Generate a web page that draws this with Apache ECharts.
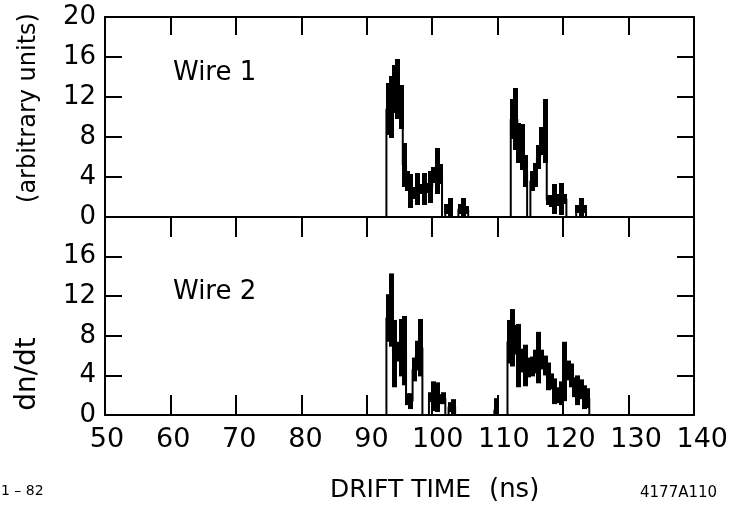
<!DOCTYPE html>
<html>
<head>
<meta charset="utf-8">
<script src="https://cdn.jsdelivr.net/npm/echarts@6/dist/echarts.min.js"></script>
<style>
html,body{margin:0;padding:0;background:#fff;}
#c{width:731px;height:506px;}
</style>
</head>
<body>
<div id="c"></div>
<script>
// ---- data ----
const X_TICKS = [50, 60, 70, 80, 90, 100, 110, 120, 130, 140];
const Y_TICKS = [0, 4, 8, 12, 16, 20];
const BIN_WIDTH = 0.5; // ns

const wire1Edges = [93.0,93.5,94.0,94.5,95.0,95.5,96.0,96.5,97.0,97.5,98.0,98.5,99.0,99.5,100.0,100.5,101.0,
  102.0,102.5, 104.0,104.5,105.0,
  112.0,112.5,113.0,113.5,114.0,
  115.0,115.5,116.0,116.5,117.0,117.5,118.0,118.5,119.0,119.5,120.0,
  122.0,122.5,123.0];
const wire1Counts = [10.8,11.0,12.8,12.8,11.0,5.2,3.6,2.6,2.4,2.8,2.8,2.8,2.9,3.0,4.2,4.6,4.3,
  0.8,0.9, 0.8,0.9,0.7,
  9.8,9.8,7.4,7.0,4.6,
  3.6,4.2,6.0,7.6,8.6,1.7,1.6,1.8,1.7,1.8,1.8,
  0.8,0.9,0.8];
const wire1Errors = [2.6,3.1,2.4,3.0,2.2,2.2,1.0,1.7,0.6,1.6,0.5,1.6,0.5,1.6,0.8,2.3,1.0,
  0.5,1.0, 0.5,1.0,0.4,
  2.0,3.1,2.0,2.3,1.6,
  1.0,1.2,1.2,1.4,3.2,0.5,0.6,1.5,0.6,1.6,0.5,
  0.4,1.0,0.4];

const wire2Edges = [93.0,93.5,94.0,94.5,95.0,95.5,96.0,96.5,97.0,97.5,98.0,
  99.5,100.0,100.5,101.0,101.5,
  102.5,103.0,
  109.5,
  111.5,112.0,112.5,113.0,113.5,114.0,114.5,115.0,115.5,116.0,116.5,117.0,117.5,118.0,118.5,119.0,119.5,120.0,120.5,121.0,121.5,122.0,122.5,123.0,123.5];
const wire2Counts = [9.8,10.6,6.2,6.4,6.8,6.5,1.6,1.4,4.6,6.0,6.8,
  1.8,1.9,1.8,1.6,1.7,
  0.8,0.8,
  0.5,
  7.4,7.8,7.6,6.0,5.5,5.0,4.8,4.9,5.4,5.8,5.6,5.0,3.9,3.4,2.4,2.0,2.2,4.4,4.5,4.0,2.8,2.5,2.6,1.8,1.7];
const wire2Errors = [2.4,3.7,3.4,1.0,2.9,3.5,0.6,0.8,1.2,1.5,2.9,
  0.5,1.5,1.5,0.5,0.6,
  0.5,0.8,
  1.2,
  2.2,2.9,1.5,3.2,1.2,2.1,1.0,1.0,1.2,2.6,1.0,1.0,1.4,0.8,1.3,0.8,1.2,3.0,1.0,1.2,1.0,1.5,1.0,1.2,1.0];

// ---- helpers ----
const FONT = 'DejaVu Sans';
const BLACK = '#000';

function outline(edges, counts) {
  const pts = [];
  for (let i = 0; i < edges.length; i++) {
    const e = edges[i], v = counts[i], end = e + BIN_WIDTH;
    const gapBefore = i === 0 || Math.abs(edges[i - 1] + BIN_WIDTH - e) > 1e-6;
    if (gapBefore) pts.push([e, 0]);
    pts.push([e, v]);
    pts.push([end, v]);
    const gapAfter = i === edges.length - 1 || Math.abs(edges[i + 1] - end) > 1e-6;
    if (gapAfter) pts.push([end, 0]);
  }
  return pts;
}
function errBars(edges, counts, errs) {
  return edges.map((e, i) => [e + BIN_WIDTH / 2, Math.max(0, counts[i] - errs[i]), counts[i] + errs[i]]);
}
const ERR_W = 5;
function renderErr(params, api) {
  const p1 = api.coord([api.value(0), api.value(1)]);
  const p2 = api.coord([api.value(0), api.value(2)]);
  return { type: 'rect', shape: { x: Math.round(p1[0] - ERR_W / 2), y: p2[1], width: ERR_W, height: p1[1] - p2[1] },
           style: { fill: BLACK } };
}

const lineStyle = { color: BLACK, width: 2 };
function xAx(grid, pos, tickLen, showLine) {
  return { gridIndex: grid, type: 'value', position: pos, min: X_TICKS[0], max: X_TICKS[X_TICKS.length - 1],
    interval: X_TICKS[1] - X_TICKS[0],
    axisLine: { show: showLine, onZero: false, lineStyle },
    axisTick: { show: tickLen > 0, inside: true, length: tickLen, lineStyle },
    axisLabel: { show: false }, splitLine: { show: false } };
}
function yAx(grid, pos, showLabel, hideTop) {
  return { gridIndex: grid, type: 'value', position: pos, min: Y_TICKS[0], max: Y_TICKS[Y_TICKS.length - 1],
    interval: Y_TICKS[1] - Y_TICKS[0],
    axisLine: { show: true, onZero: false, lineStyle },
    axisTick: { show: true, inside: true, length: 17, lineStyle },
    axisLabel: { show: showLabel, margin: 9, color: BLACK, fontFamily: FONT, fontSize: 26,
      formatter: v => (hideTop && v === 20) ? '' : String(v) },
    splitLine: { show: false } };
}

const chart = echarts.init(document.getElementById('c'), null, { renderer: 'canvas' });
chart.setOption({
  animation: false,
  backgroundColor: '#fff',
  grid: [
    { left: 105, top: 17, width: 589, height: 200 },
    { left: 105, top: 217, width: 589, height: 198 },
    { left: 107, top: 415, width: 597, height: 1 }
  ],
  xAxis: [
    xAx(0, 'top', 18, true),
    xAx(0, 'bottom', 0, true),
    xAx(1, 'top', 20, true),
    xAx(1, 'bottom', 20, true),
    { gridIndex: 2, type: 'value', position: 'bottom', min: X_TICKS[0], max: X_TICKS[X_TICKS.length - 1],
      interval: X_TICKS[1] - X_TICKS[0],
      axisLine: { show: false }, axisTick: { show: false }, splitLine: { show: false },
      axisLabel: { show: true, margin: 10, color: BLACK, fontFamily: FONT, fontSize: 27 } }
  ],
  yAxis: [
    yAx(0, 'left', true, false),
    yAx(0, 'right', false, false),
    yAx(1, 'left', true, true),
    yAx(1, 'right', false, false),
    { gridIndex: 2, type: 'value', show: false }
  ],
  series: [
    { type: 'line', xAxisIndex: 1, yAxisIndex: 0, data: outline(wire1Edges, wire1Counts),
      showSymbol: false, symbol: 'none', lineStyle: { color: BLACK, width: 2 }, z: 3 },
    { type: 'custom', xAxisIndex: 1, yAxisIndex: 0, data: errBars(wire1Edges, wire1Counts, wire1Errors),
      encode: { x: 0, y: [1, 2] }, renderItem: renderErr, z: 4 },
    { type: 'line', xAxisIndex: 3, yAxisIndex: 2, data: outline(wire2Edges, wire2Counts),
      showSymbol: false, symbol: 'none', lineStyle: { color: BLACK, width: 2 }, z: 3 },
    { type: 'custom', xAxisIndex: 3, yAxisIndex: 2, data: errBars(wire2Edges, wire2Counts, wire2Errors),
      encode: { x: 0, y: [1, 2] }, renderItem: renderErr, z: 4 }
  ],
  graphic: [
    { type: 'text', x: 29, y: 108, rotation: Math.PI / 2,
      style: { text: '(arbitrary units)', fill: BLACK, font: '24px "DejaVu Sans"', textAlign: 'center', textVerticalAlign: 'middle', align: 'center', verticalAlign: 'middle' } },
    { type: 'text', x: 28, y: 374, rotation: Math.PI / 2,
      style: { text: 'dn/dt', fill: BLACK, font: '28px "DejaVu Sans"', textAlign: 'center', textVerticalAlign: 'middle', align: 'center', verticalAlign: 'middle' } },
    { type: 'text', x: 173, y: 73,
      style: { text: 'Wire 1', fill: BLACK, font: '26px "DejaVu Sans"', textAlign: 'left', textVerticalAlign: 'middle', align: 'left', verticalAlign: 'middle' } },
    { type: 'text', x: 173, y: 292,
      style: { text: 'Wire 2', fill: BLACK, font: '26px "DejaVu Sans"', textAlign: 'left', textVerticalAlign: 'middle', align: 'left', verticalAlign: 'middle' } },
    { type: 'text', x: 330, y: 490,
      style: { text: 'DRIFT TIME', fill: BLACK, font: '25px "DejaVu Sans"', textAlign: 'left', textVerticalAlign: 'middle', align: 'left', verticalAlign: 'middle' } },
    { type: 'text', x: 489, y: 490,
      style: { text: '(ns)', fill: BLACK, font: '26px "DejaVu Sans"', textAlign: 'left', textVerticalAlign: 'middle', align: 'left', verticalAlign: 'middle' } },
    { type: 'text', x: 1, y: 491,
      style: { text: '1 – 82', fill: BLACK, font: '14px "DejaVu Sans"', textAlign: 'left', textVerticalAlign: 'middle', align: 'left', verticalAlign: 'middle' } },
    { type: 'text', x: 640, y: 493,
      style: { text: '4177A110', fill: BLACK, font: '15px "DejaVu Sans"', textAlign: 'left', textVerticalAlign: 'middle', align: 'left', verticalAlign: 'middle' } }
  ]
});
</script>
</body>
</html>
